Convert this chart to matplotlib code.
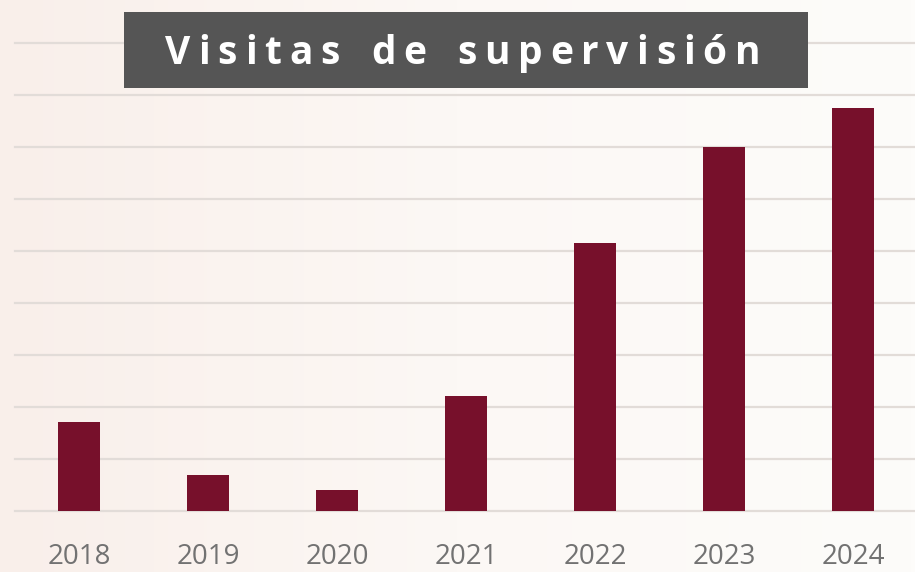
import numpy as np
import matplotlib
matplotlib.use("Agg")
import matplotlib.pyplot as plt
from matplotlib.patches import Rectangle

years = ["2018", "2019", "2020", "2021", "2022", "2023", "2024"]
visitas = [171, 69, 40, 221, 515, 700, 775]
grid_step = 100

bar_color = "#77102b"
grid_color = "#e2dcd8"
label_color = "#727272"
box_color = "#555555"

W, H = 915, 572
fig = plt.figure(figsize=(W / 100, H / 100), dpi=100)
fig.patch.set_facecolor("#fdfbf9")

# faint warm tint on the left side like the watermark of the original
bg = fig.add_axes([0, 0, 1, 1], zorder=-5)
grad = np.linspace(0, 1, 256)[None, :]
bg.imshow(grad, aspect="auto", cmap=matplotlib.colors.LinearSegmentedColormap.from_list(
    "bg", ["#f9efea", "#fcf8f5", "#fdfcfa"]), extent=[0, 1, 0, 1])
bg.axis("off")

# axes: baseline at y=511px, grid every 52px, first bar center at x=79px, spacing 129px
unit = 52.0
x_left = (15 - 79) / 129.0
x_right = (W - 79) / 129.0
y_top = (511 / unit) * grid_step
ax = fig.add_axes([0, (H - 511) / H, 1, 511 / H])
ax.set_facecolor("none")

x = np.arange(len(years))
ax.bar(x, visitas, width=0.32, color=bar_color, zorder=3)

ax.set_xlim(-79 / 129.0, x_right)
ax.set_ylim(0, y_top)
ax.set_yticks(np.arange(0, 1000, grid_step))
for yv in np.arange(0, 1000, grid_step):
    ax.plot([x_left, x_right], [yv, yv], color=grid_color, lw=1.6, zorder=1, clip_on=False)

ax.set_xticks(x)
ax.set_xticklabels(years, fontsize=20, color=label_color, fontfamily="Open Sans")
ax.tick_params(axis="x", length=0, pad=23)
ax.tick_params(axis="y", length=0, labelleft=False)
for s in ax.spines.values():
    s.set_visible(False)

# title box
fig.patches.append(Rectangle((124 / W, 1 - 88 / H), 684 / W, 76 / H,
                             transform=fig.transFigure, facecolor=box_color,
                             edgecolor="none", zorder=5))

# title with wide letter spacing, laid out character by character
title = "Visitas de supervisión"
fig.canvas.draw()
renderer = fig.canvas.get_renderer()
kw = dict(fontsize=28, fontweight="bold", color="white", fontfamily="Open Sans")
widths = []
for ch in title:
    t = fig.text(0, 0, ch if ch != " " else "n", **kw)
    w = t.get_window_extent(renderer).width
    if ch == " ":
        w *= 0.6
    widths.append(w)
    t.remove()
x0, x1 = 165, 760
track = ((x1 - x0) - sum(widths)) / (len(title) - 1)
xp = x0
for ch, w in zip(title, widths):
    if ch != " ":
        fig.text(xp / W, 1 - 64 / H, ch, ha="left", va="baseline", zorder=6, **kw)
    xp += w + track

fig.savefig("out.png", dpi=100, facecolor=fig.get_facecolor())
